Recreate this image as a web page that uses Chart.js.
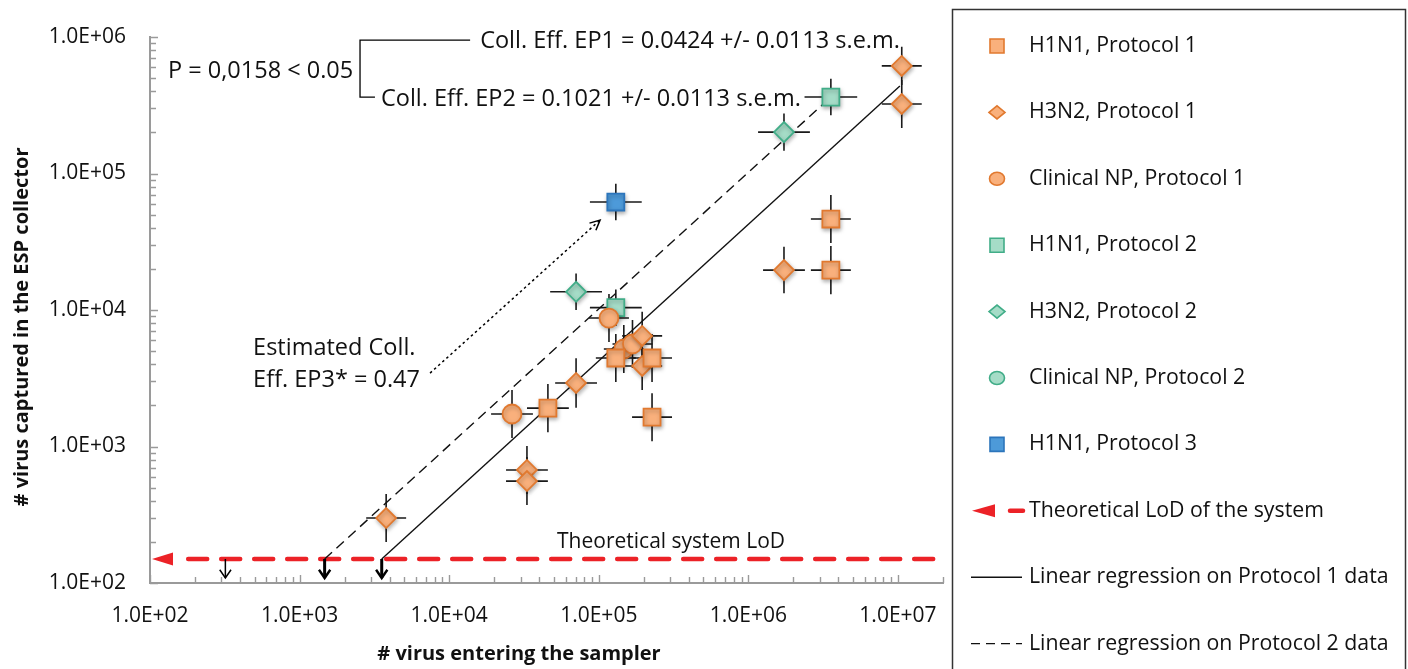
<!DOCTYPE html>
<html>
<head>
<meta charset="utf-8">
<script src="https://cdn.jsdelivr.net/npm/chart.js@4.4.1/dist/chart.umd.min.js"></script>
<style>
  html, body { margin: 0; padding: 0; background: #fff; }
  #wrap { width: 1408px; height: 669px; }
</style>
</head>
<body>
<div id="wrap"><canvas id="esp-chart" width="1408" height="669"></canvas></div>
<script>
// Values (x = virus entering sampler, y = virus captured)
const h1n1P1X = [3.56e6, 3.56e6, 4.57e4, 2.27e5, 2.27e5, 1.30e5];
const h1n1P1Y = [4.64e4, 1.96e4, 1.91e3, 1.64e3, 4.45e3, 4.45e3];
const h1n1P1ErrX = [1.36, 1.36, 1.38, 1.36, 1.36, 1.36];
const h1n1P1ErrY = [1.5, 1.5, 1.5, 1.5, 1.5, 1.5];

const h3n2P1X = [1.06e7, 1.06e7, 1.73e6, 7.05e4, 3.31e4, 3.31e4, 3.79e3, 1.95e5, 1.95e5];
const h3n2P1Y = [6.14e5, 3.23e5, 1.96e4, 2.92e3, 673, 558, 299, 6.46e3, 3.89e3];
const h3n2P1ErrX = [1.36, 1.36, 1.38, 1.38, 1.38, 1.38, 1.36, 1.36, 1.36];
const h3n2P1ErrY = [1.38, 1.5, 1.48, 1.52, 1.5, 1.5, 1.5, 1.5, 1.5];

const npP1X = [2.63e4, 1.17e5, 1.47e5, 1.68e5];
const npP1Y = [1.73e3, 8.73e3, 5.18e3, 5.64e3];
const npP1ErrX = [1.38, 1.36, 1.36, 1.36];
const npP1ErrY = [1.5, 1.5, 1.5, 1.5];

const h1n1P2X = [1.30e5, 3.56e6];
const h1n1P2Y = [1.04e4, 3.63e5];
const h1n1P2ErrX = [1.49, 1.5];
const h1n1P2ErrY = [1.36, 1.36];

const h3n2P2X = [7.05e4, 1.73e6];
const h3n2P2Y = [1.36e4, 2.01e5];
const h3n2P2ErrX = [1.49, 1.49];
const h3n2P2ErrY = [1.36, 1.37];

const npP2X = [];
const npP2Y = [];

const h1n1P3X = [1.30e5];
const h1n1P3Y = [6.18e4];
const h1n1P3ErrX = [1.49];
const h1n1P3ErrY = [1.36];

// regression lines and limit of detection
const reg1X = [3540, 1.03e7];
const reg1Y = [150, 4.37e5];
const reg2X = [1470, 3.56e6];
const reg2Y = [150, 3.63e5];
const lodValue = 150;
const lodLineX = [180, 2e7];
const lodArrowX = [3540, 1470, 319]; // LoD / EP1, EP2, EP3

const xTicks = [1e2, 1e3, 1e4, 1e5, 1e6, 1e7];
const yTicks = [1e2, 1e3, 1e4, 1e5, 1e6];

const legendLabels = [
    'H1N1, Protocol 1', 'H3N2, Protocol 1', 'Clinical NP, Protocol 1',
    'H1N1, Protocol 2', 'H3N2, Protocol 2', 'Clinical NP, Protocol 2',
    'H1N1, Protocol 3', 'Theoretical LoD of the system',
    'Linear regression on Protocol 1 data', 'Linear regression on Protocol 2 data'
];

const ORANGE = { fill: '#f9b07c', line: '#e1792f' };
const TEAL = { fill: '#a5dcc7', line: '#41ad88' };
const BLUE = { fill: '#4d9ad9', line: '#2c75bb' };
const FONT = '"Open Sans", "Noto Sans", sans-serif';

function pts(xs, ys) {
    return xs.map((x, i) => ({ x: x, y: ys[i] }));
}

function markerSet(label, xs, ys, ex, ey, style, col, radius) {
    return {
        type: 'scatter',
        label: label,
        data: pts(xs, ys),
        errX: ex,
        errY: ey,
        pointStyle: style,
        pointRadius: radius,
        backgroundColor: col.fill,
        borderColor: col.line,
        borderWidth: 1.8,
        shadow: true,
        order: 1
    };
}

const datasets = [
    markerSet(legendLabels[0], h1n1P1X, h1n1P1Y, h1n1P1ErrX, h1n1P1ErrY, 'rect', ORANGE, 12),
    markerSet(legendLabels[1], h3n2P1X, h3n2P1Y, h3n2P1ErrX, h3n2P1ErrY, 'rectRot', ORANGE, 10),
    markerSet(legendLabels[2], npP1X, npP1Y, npP1ErrX, npP1ErrY, 'circle', ORANGE, 9.5),
    markerSet(legendLabels[3], h1n1P2X, h1n1P2Y, h1n1P2ErrX, h1n1P2ErrY, 'rect', TEAL, 12),
    markerSet(legendLabels[4], h3n2P2X, h3n2P2Y, h3n2P2ErrX, h3n2P2ErrY, 'rectRot', TEAL, 10),
    markerSet(legendLabels[5], npP2X, npP2Y, [], [], 'circle', TEAL, 9.5),
    markerSet(legendLabels[6], h1n1P3X, h1n1P3Y, h1n1P3ErrX, h1n1P3ErrY, 'rect', BLUE, 12),
    {
        type: 'line', label: legendLabels[7], data: pts(lodLineX, [lodValue, lodValue]),
        borderColor: '#ec2227', borderWidth: 4.5, borderDash: [19, 14], borderCapStyle: 'round',
        pointRadius: 0, order: 3
    },
    {
        type: 'line', label: legendLabels[8], data: pts(reg1X, reg1Y),
        borderColor: '#111', borderWidth: 1.4, pointRadius: 0, order: 2
    },
    {
        type: 'line', label: legendLabels[9], data: pts(reg2X, reg2Y),
        borderColor: '#111', borderWidth: 1.4, borderDash: [10, 6], pointRadius: 0, order: 2
    }
];

function fmtTick(value) {
    const e = Math.log10(value);
    if (Math.abs(e - Math.round(e)) > 1e-9) return '';
    const n = Math.round(e);
    return '1.0E+' + (n < 10 ? '0' : '') + n;
}

// error bar crosses, under the markers
const errorBars = {
    id: 'errorBars',
    beforeDatasetsDraw(chart) {
        const ctx = chart.ctx;
        const xs = chart.scales.x, ys = chart.scales.y;
        ctx.save();
        ctx.strokeStyle = '#1a1a1a';
        ctx.lineWidth = 1.6;
        chart.data.datasets.forEach(ds => {
            if (!ds.errX) return;
            ds.data.forEach((p, i) => {
                const px = xs.getPixelForValue(p.x), py = ys.getPixelForValue(p.y);
                ctx.beginPath();
                ctx.moveTo(xs.getPixelForValue(p.x / ds.errX[i]), py);
                ctx.lineTo(xs.getPixelForValue(p.x * ds.errX[i]), py);
                ctx.moveTo(px, ys.getPixelForValue(p.y / ds.errY[i]));
                ctx.lineTo(px, ys.getPixelForValue(p.y * ds.errY[i]));
                ctx.stroke();
            });
        });
        ctx.restore();
    },
    beforeDatasetDraw(chart, args) {
        if (args.meta._dataset && args.meta._dataset.shadow) {
            const ctx = chart.ctx;
            ctx.save();
            ctx.shadowColor = 'rgba(0,0,0,0.28)';
            ctx.shadowBlur = 4;
            ctx.shadowOffsetX = 1;
            ctx.shadowOffsetY = 2;
        }
    },
    afterDatasetDraw(chart, args) {
        if (args.meta._dataset && args.meta._dataset.shadow) chart.ctx.restore();
    }
};

function arrowHead(ctx, x, y, ang, len, spread) {
    ctx.beginPath();
    ctx.moveTo(x - len * Math.cos(ang - spread), y - len * Math.sin(ang - spread));
    ctx.lineTo(x, y);
    ctx.lineTo(x - len * Math.cos(ang + spread), y - len * Math.sin(ang + spread));
    ctx.stroke();
}

function drawMarker(ctx, style, x, y, col) {
    ctx.fillStyle = col.fill;
    ctx.strokeStyle = col.line;
    ctx.lineWidth = 1.6;
    ctx.beginPath();
    if (style === 'rect') {
        ctx.rect(x - 7, y - 7, 14, 14);
    } else if (style === 'rectRot') {
        ctx.moveTo(x - 8, y); ctx.lineTo(x, y - 6.5); ctx.lineTo(x + 8, y); ctx.lineTo(x, y + 6.5);
        ctx.closePath();
    } else {
        ctx.ellipse(x, y, 7.5, 6.5, 0, 0, Math.PI * 2);
    }
    ctx.fill();
    ctx.stroke();
}

const decorations = {
    id: 'decorations',
    afterDraw(chart) {
        const ctx = chart.ctx;
        const xs = chart.scales.x, ys = chart.scales.y;
        const X = v => xs.getPixelForValue(v), Y = v => ys.getPixelForValue(v);
        ctx.save();

        // axis tick marks, pointing into the plot
        ctx.strokeStyle = '#9a9a9a';
        ctx.lineWidth = 1.4;
        ctx.beginPath();
        for (let e = 2; e <= 7; e++) {
            for (let m = 1; m <= 9; m++) {
                const v = m * Math.pow(10, e);
                if (v > xs.max * 1.0001) break;
                const px = Math.round(X(v)) + 0.5;
                ctx.moveTo(px, ys.bottom);
                ctx.lineTo(px, ys.bottom - (m === 1 ? 8 : 6));
            }
        }
        for (let e = 2; e <= 6; e++) {
            for (let m = 1; m <= 9; m++) {
                const v = m * Math.pow(10, e);
                if (v > ys.max * 1.0001) break;
                const py = Math.round(Y(v)) + 0.5;
                ctx.moveTo(xs.left, py);
                ctx.lineTo(xs.left + (m === 1 ? 8 : 6), py);
            }
        }
        ctx.stroke();

        // LoD arrowhead on the left
        const ly = Y(lodValue);
        ctx.fillStyle = '#ec2227';
        ctx.beginPath();
        ctx.moveTo(xs.left + 2, ly);
        ctx.lineTo(xs.left + 23, ly - 6.5);
        ctx.lineTo(xs.left + 23, ly + 6.5);
        ctx.closePath();
        ctx.fill();

        // arrows from LoD down to the x axis
        ctx.strokeStyle = '#000';
        lodArrowX.forEach((v, i) => {
            const px = X(v);
            ctx.lineWidth = i < 2 ? 3 : 1.5;
            ctx.beginPath();
            ctx.moveTo(px, ly);
            ctx.lineTo(px, ys.bottom - 5);
            ctx.stroke();
            ctx.lineWidth = i < 2 ? 2.4 : 1.5;
            arrowHead(ctx, px, ys.bottom - 5, Math.PI / 2, 10, 0.6);
        });

        // dotted arrow towards the Protocol 3 point
        ctx.lineWidth = 1.5;
        ctx.setLineDash([2.5, 3]);
        const ax0 = X(7450), ay0 = Y(3450), ax1 = X(1.02e5), ay1 = Y(4.56e4);
        ctx.beginPath();
        ctx.moveTo(ax0, ay0);
        ctx.lineTo(ax1, ay1);
        ctx.stroke();
        ctx.setLineDash([]);
        arrowHead(ctx, ax1, ay1, Math.atan2(ay1 - ay0, ax1 - ax0), 11, 0.45);

        // bracket joining the two efficiency labels
        ctx.lineWidth = 1.3;
        ctx.beginPath();
        ctx.moveTo(X(1.38e4), Y(9.5e5));
        ctx.lineTo(X(2535), Y(9.5e5));
        ctx.lineTo(X(2535), Y(3.63e5));
        ctx.lineTo(X(3190), Y(3.63e5));
        ctx.stroke();

        // annotation texts
        ctx.fillStyle = '#111';
        ctx.font = '23.5px ' + FONT;
        ctx.textBaseline = 'middle';
        ctx.textAlign = 'left';
        ctx.fillText('P = 0,0158 < 0.05', X(132), Y(5.64e5));
        ctx.fillText('Coll. Eff. EP1 = 0.0424 +/- 0.0113 s.e.m.', X(1.61e4), Y(9.35e5));
        ctx.fillText('Coll. Eff. EP2 = 0.1021 +/- 0.0113 s.e.m.', X(3500), Y(3.52e5));
        ctx.fillText('Estimated Coll.', X(489), Y(5270));
        ctx.fillText('Eff. EP3* = 0.47', X(489), Y(3070));
        ctx.font = '21px ' + FONT;
        ctx.fillText('Theoretical system LoD', X(5.26e4), Y(200));

        // axis titles
        ctx.font = 'bold 20px ' + FONT;
        ctx.textAlign = 'center';
        ctx.fillText('# virus entering the sampler', 519, 654);
        ctx.save();
        ctx.translate(22, 327);
        ctx.rotate(-Math.PI / 2);
        ctx.fillText('# virus captured in the ESP collector', 0, 0);
        ctx.restore();

        // legend box
        ctx.strokeStyle = '#333';
        ctx.lineWidth = 1.5;
        ctx.strokeRect(952.5, 9.5, 453, 700);
        const styles = ['rect', 'rectRot', 'circle', 'rect', 'rectRot', 'circle', 'rect'];
        const cols = [ORANGE, ORANGE, ORANGE, TEAL, TEAL, TEAL, BLUE];
        ctx.font = '21.3px ' + FONT;
        ctx.textAlign = 'left';
        legendLabels.forEach((lab, i) => {
            const y = 46 + i * 66.4;
            if (i < 7) {
                drawMarker(ctx, styles[i], 997, y, cols[i]);
            } else if (i === 7) {
                ctx.fillStyle = '#ec2227';
                ctx.beginPath();
                ctx.moveTo(972, y); ctx.lineTo(995, y - 6.5); ctx.lineTo(995, y + 6.5);
                ctx.closePath();
                ctx.fill();
                ctx.strokeStyle = '#ec2227';
                ctx.lineWidth = 4.5;
                ctx.lineCap = 'round';
                ctx.beginPath(); ctx.moveTo(1010, y); ctx.lineTo(1023, y); ctx.stroke();
                ctx.lineCap = 'butt';
            } else {
                ctx.strokeStyle = '#111';
                ctx.lineWidth = 1.4;
                ctx.setLineDash(i === 9 ? [9, 6] : []);
                ctx.beginPath(); ctx.moveTo(971, y); ctx.lineTo(1022, y); ctx.stroke();
                ctx.setLineDash([]);
            }
            ctx.fillStyle = '#111';
            ctx.fillText(lab, 1029, y);
        });
        ctx.restore();
    }
};

function buildChart() {
    const ctx = document.getElementById('esp-chart').getContext('2d');
    new Chart(ctx, {
        type: 'scatter',
        data: { datasets: datasets },
        options: {
            responsive: false,
            animation: false,
            layout: { padding: { top: 37, right: 465, left: 0, bottom: 0 } },
            scales: {
                x: {
                    type: 'logarithmic',
                    min: 100,
                    max: 2e7,
                    grid: { display: false, drawTicks: false },
                    border: { display: true, color: '#9a9a9a', width: 2 },
                    afterBuildTicks: s => { s.ticks = xTicks.map(v => ({ value: v })); },
                    ticks: {
                        autoSkip: false, maxRotation: 0, padding: 20, color: '#111',
                        font: { family: FONT, size: 21 }, callback: fmtTick
                    },
                    afterFit: s => { s.height = 86; }
                },
                y: {
                    type: 'logarithmic',
                    min: 100,
                    max: 1e6,
                    grid: { display: false, drawTicks: false },
                    border: { display: true, color: '#9a9a9a', width: 2 },
                    afterBuildTicks: s => { s.ticks = yTicks.map(v => ({ value: v })); },
                    ticks: {
                        autoSkip: false, padding: 24, color: '#111',
                        font: { family: FONT, size: 21 }, callback: fmtTick
                    },
                    afterFit: s => { s.width = 150; }
                }
            },
            plugins: {
                legend: { display: false },
                tooltip: { enabled: false }
            }
        },
        plugins: [errorBars, decorations]
    });
}

document.fonts.load('21px "Open Sans"').then(buildChart, buildChart);
</script>
</body>
</html>
